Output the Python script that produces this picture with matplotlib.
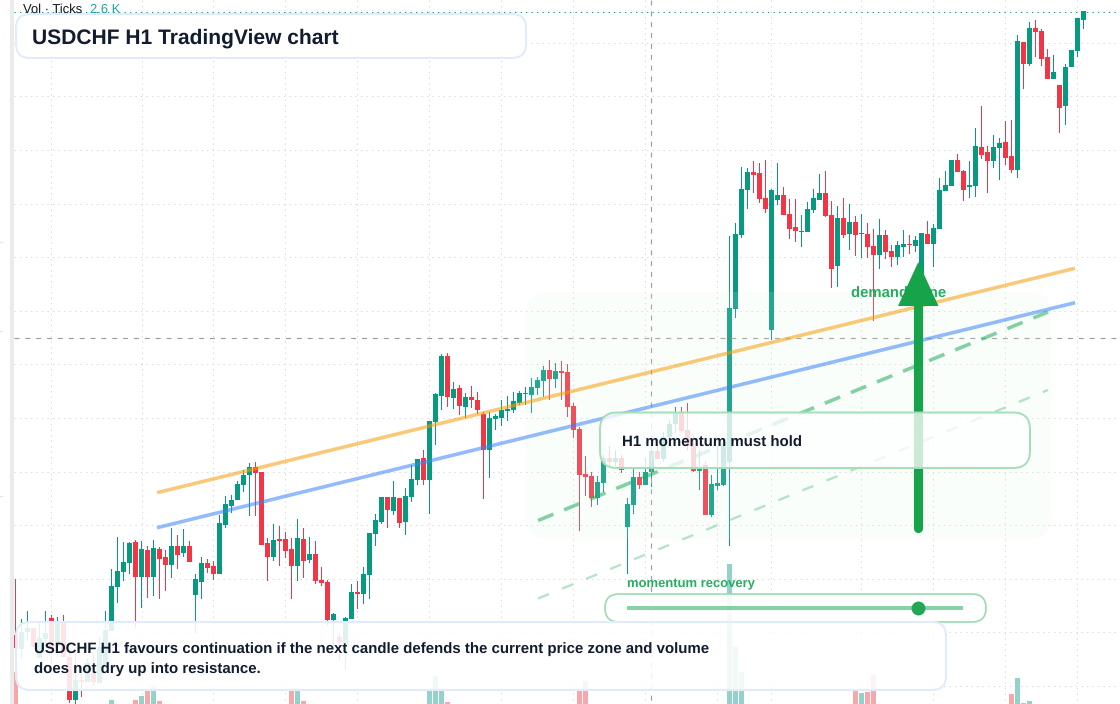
import matplotlib
matplotlib.use("Agg")
import matplotlib.pyplot as plt
from matplotlib.patches import FancyBboxPatch, Polygon, Rectangle

plt.rcParams['font.family'] = ['Liberation Sans', 'DejaVu Sans']
plt.rcParams['text.hinting'] = 'none'

# chart units run top-down
open_ = [635,649,632,628,658,639,618,646,623,657,700,680,682,673,683,667,631,587,572,563,
 542,577,550,577,549,557,565,546,553,546,595,582,563,566,574,525,506,500,485,475,
 467,472,543,557,539,539,549,566,539,560,554,580,582,620,637,645,619,592,594,575,
 534,522,497,511,498,522,497,480,458,480,422,396,356,398,388,407,397,400,414,450,
 419,418,411,410,403,394,395,388,381,370,379,371,372,406,429,474,476,498,483,458,
 462,458,527,505,477,485,472,451,459,437,424,413,430,446,471,465,515,486,485,462,
 309,235,190,172,173,198,330,200,195,214,227,232,232,210,200,193,215,266,218,234,
 222,234,234,246,255,235,251,257,247,244,246,278,234,244,229,191,186,160,171,187,
 186,147,152,161,148,142,156,170,42,64,28,31,57,79,85,106,67,51,20]
high = [579,619,611,628,621,611,615,617,615,653,654,667,659,652,637,611,569,537,542,542,
 540,541,546,540,547,550,528,535,529,541,574,557,559,561,515,496,495,481,470,463,
 462,472,538,524,526,532,538,519,528,537,541,567,580,613,634,617,584,581,567,533,
 514,497,497,481,498,488,465,459,450,421,393,354,353,382,385,393,386,392,412,412,
 414,400,396,392,391,387,378,377,366,360,363,361,364,403,427,456,472,476,455,446,
 450,455,498,467,472,458,447,445,432,420,407,407,403,435,450,461,475,446,446,236,
 223,167,168,161,163,160,189,163,187,199,199,215,202,189,174,171,201,206,198,204,
 216,214,223,229,219,230,245,241,230,235,236,233,221,224,178,171,160,154,170,161,
 128,106,146,135,138,121,120,35,42,22,20,29,49,55,85,64,50,18,11]
low = [649,658,641,647,658,647,664,657,657,703,704,697,682,686,683,667,631,603,581,574,
 628,608,598,596,599,591,578,569,557,562,633,599,573,580,574,528,513,500,492,516,
 516,545,581,561,566,558,599,581,578,563,584,586,626,650,660,670,619,609,604,599,
 546,524,528,515,528,535,502,485,485,514,445,410,407,409,415,418,408,414,499,478,
 430,426,421,413,405,405,413,395,397,400,388,400,417,438,531,496,507,505,492,466,
 466,473,574,514,489,485,487,459,462,445,433,433,450,472,490,515,517,490,486,546,
 318,238,209,193,203,213,340,205,215,239,242,247,232,213,200,217,288,287,238,250,
 256,258,258,321,269,259,267,265,257,254,252,278,244,267,229,191,186,172,201,198,
 197,159,193,168,180,165,173,178,89,66,57,66,79,79,133,125,67,57,29]
close = [648,632,628,647,638,633,648,622,657,700,680,682,663,682,647,630,586,571,562,543,
 577,549,577,548,559,565,546,555,546,562,579,563,568,574,523,504,500,484,475,467,
 473,545,557,540,541,551,566,538,561,554,581,583,620,614,642,618,592,594,574,533,
 520,497,510,497,523,496,479,459,480,421,394,356,397,389,406,397,400,410,450,418,
 416,410,409,401,393,393,387,380,370,379,371,373,407,430,475,477,498,482,458,462,
 458,470,504,477,485,472,451,459,437,424,412,431,446,471,467,515,484,483,446,308,
 234,189,172,175,199,209,190,195,215,229,231,231,209,198,193,216,269,218,235,222,
 235,233,247,255,235,252,257,245,244,245,240,233,244,228,190,185,160,172,190,185,
 146,155,161,147,143,158,170,41,64,28,32,59,79,72,108,67,50,18,11]

vol_index = [0,16,20,21,22,23,24,46,47,48,69,70,71,72,94,95,119,120,121,140,141,142,143,166,167,168,169]
vol_size = [32,4,4,8,14,18,3,13,13,3,13,28,13,2,14,23,140,57,32,14,11,12,29,10,26,1,3]

grid_x = [6,21,33,45,57,69,81,93,105,117,126,141,153,165,177]
grid_y = [43,96,150,204,257,311,364,418,472,525,579,632,686]

labels_title = "USDCHF H1 TradingView chart"
note_line_1 = "USDCHF H1 favours continuation if the next candle defends the current price zone and volume"
note_line_2 = "does not dry up into resistance."

UP, DOWN = '#089981', '#f23645'
VOL_UP, VOL_DOWN = '#92d2ca', '#f9a6a9'
INK = '#111c2e'
GREEN = '#16a34a'

fig = plt.figure(figsize=(11.2, 7.04), dpi=100, facecolor='white')
ax = fig.add_axes([0, 0, 1, 1])
ax.set_xlim(-15.5/6, (1120-15.5)/6)
ax.set_ylim(704, 0)
ax.axis('off')

n = len(open_)
xs = list(range(n))

DOTS = (0, (1.3, 4.2))

# grid
for gx in grid_x:
    ax.plot([gx, gx], [0, 704], color='#d6d6d6', lw=0.72, ls=DOTS, zorder=1)
for gy in grid_y:
    ax.plot([-0.25, 184.1], [gy, gy], color='#d6d6d6', lw=0.72, ls=DOTS, zorder=1)

# volume
ax.bar(vol_index, [-v for v in vol_size], bottom=704, width=5/6, linewidth=0, snap=False,
       color=[VOL_UP if close[i] < open_[i] else VOL_DOWN for i in vol_index], zorder=2)

# candles
colors = [UP if c < o else DOWN for o, c in zip(open_, close)]
wicks = ax.vlines(xs, high, low, colors=colors, lw=0.72, zorder=3)
wicks.set_snap(False)
ax.bar(xs, [max(abs(c-o), 1) for o, c in zip(open_, close)],
       bottom=[min(o, c) for o, c in zip(open_, close)], snap=False,
       width=5/6, color=colors, linewidth=0, zorder=4)

# overlay in picture coordinates
ov = fig.add_axes([0, 0, 1, 1], facecolor='none')
ov.set_xlim(0, 1120)
ov.set_ylim(704, 0)
ov.axis('off')

def panel(x0, y0, x1, y1, r, fc, alpha_fc, ec, lw, z):
    ov.add_patch(FancyBboxPatch((x0+r, y0+r), x1-x0-2*r, y1-y0-2*r,
                 boxstyle=f"round,pad={r},rounding_size={r}",
                 facecolor=matplotlib.colors.to_rgba(fc, alpha_fc), edgecolor=ec, linewidth=lw, zorder=z))

# left strip
ov.add_patch(Rectangle((0, 0), 10, 704, fc='white', ec='none', zorder=2))
ov.add_patch(Rectangle((10, 0), 4, 704, fc='#ebebeb', ec='none', zorder=2))
for ty in (242, 331, 496):
    ov.plot([0, 2], [ty, ty], color='#e6e6e6', lw=0.8, zorder=2)

# price line and crosshair
ov.plot([14, 1120], [11.5, 11.5], color=UP, lw=0.72, ls=DOTS, zorder=2)
ov.plot([14, 1120], [337.8, 337.8], color='#9e9e9e', lw=0.85, ls=(0, (4.2, 5)), zorder=3)
ov.plot([650.8, 650.8], [0, 704], color='#9e9e9e', lw=0.85, ls=(0, (4.2, 5)), zorder=3)

# zone
panel(526, 292, 1052, 539, 22, '#dcfae6', 0.14, 'none', 0, 4)

# trend lines
ov.plot([157, 1075], [492.7, 268.3], color='#f59e0b', alpha=0.55, lw=2.6, solid_capstyle='butt', zorder=5)
ov.plot([157, 1075], [527.7, 302.7], color='#3b82f6', alpha=0.55, lw=2.6, solid_capstyle='butt', zorder=5)
ov.plot([538, 1048], [520.5, 312], color='#22ad5c', alpha=0.55, lw=2.6, ls=(0, (4.6, 3.2)), zorder=5)
ov.plot([538, 1048], [598.5, 390], color='#22ad5c', alpha=0.33, lw=1.7, ls=(0, (5, 6)), zorder=5)

# demand zone label and arrow
ov.text(851, 298.3, "demand zone", color='#27ad5f', fontsize=10.7, fontweight='bold', va='baseline', ha='left', zorder=6)
ov.plot([918, 918], [527.5, 300], color=GREEN, lw=6.6, solid_capstyle='round', zorder=7)
ov.add_patch(Polygon([(918.3, 262), (898, 306), (938.5, 306)], closed=True, fc=GREEN, ec='none', zorder=7))

# H1 panel
panel(600, 412.5, 1030, 468, 17, 'white', 0.78, '#a3dfb8', 1.4, 8)
ov.text(622, 447.3, "H1 momentum must hold", color=INK, fontsize=10.8, fontweight='bold', va='baseline', ha='left', zorder=9)

# momentum panel
ov.text(627, 587.3, "momentum recovery", color='#27ad5f', fontsize=9.36, fontweight='bold', va='baseline', ha='left', zorder=9)
panel(605, 594, 986, 622, 14, 'white', 0.92, '#9adbb0', 1.2, 8)
ov.plot([627, 963], [607.8, 607.8], color='#22ad5c', alpha=0.55, lw=2.9, solid_capstyle='butt', zorder=9)
ov.plot([918], [607.8], marker='o', ms=10, mfc='#22a755', mec='none', zorder=10)

# note panel
panel(16, 622, 946, 690, 14, 'white', 0.88, '#e2ebfb', 1.5, 10)
ov.text(34, 653.2, note_line_1, color=INK, fontsize=10.8, fontweight='bold', va='baseline', ha='left', zorder=11)
ov.text(34, 673.2, note_line_2, color=INK, fontsize=10.8, fontweight='bold', va='baseline', ha='left', zorder=11)

# title panel
panel(16, 14, 526, 58, 14, 'white', 0.9, '#e2ebfb', 1.5, 10)
ov.text(32, 43.4, labels_title, color=INK, fontsize=15.12, fontweight='bold', va='baseline', ha='left', zorder=11)

# header text
ov.text(23, 13.3, "Vol · Ticks", color='#131722', fontsize=9.36, va='baseline', ha='left', zorder=12)
ov.text(90, 13.3, "2.6 K", color='#26a69a', fontsize=9.36, va='baseline', ha='left', zorder=12)

fig.savefig('out.png', dpi=100, facecolor='white')
